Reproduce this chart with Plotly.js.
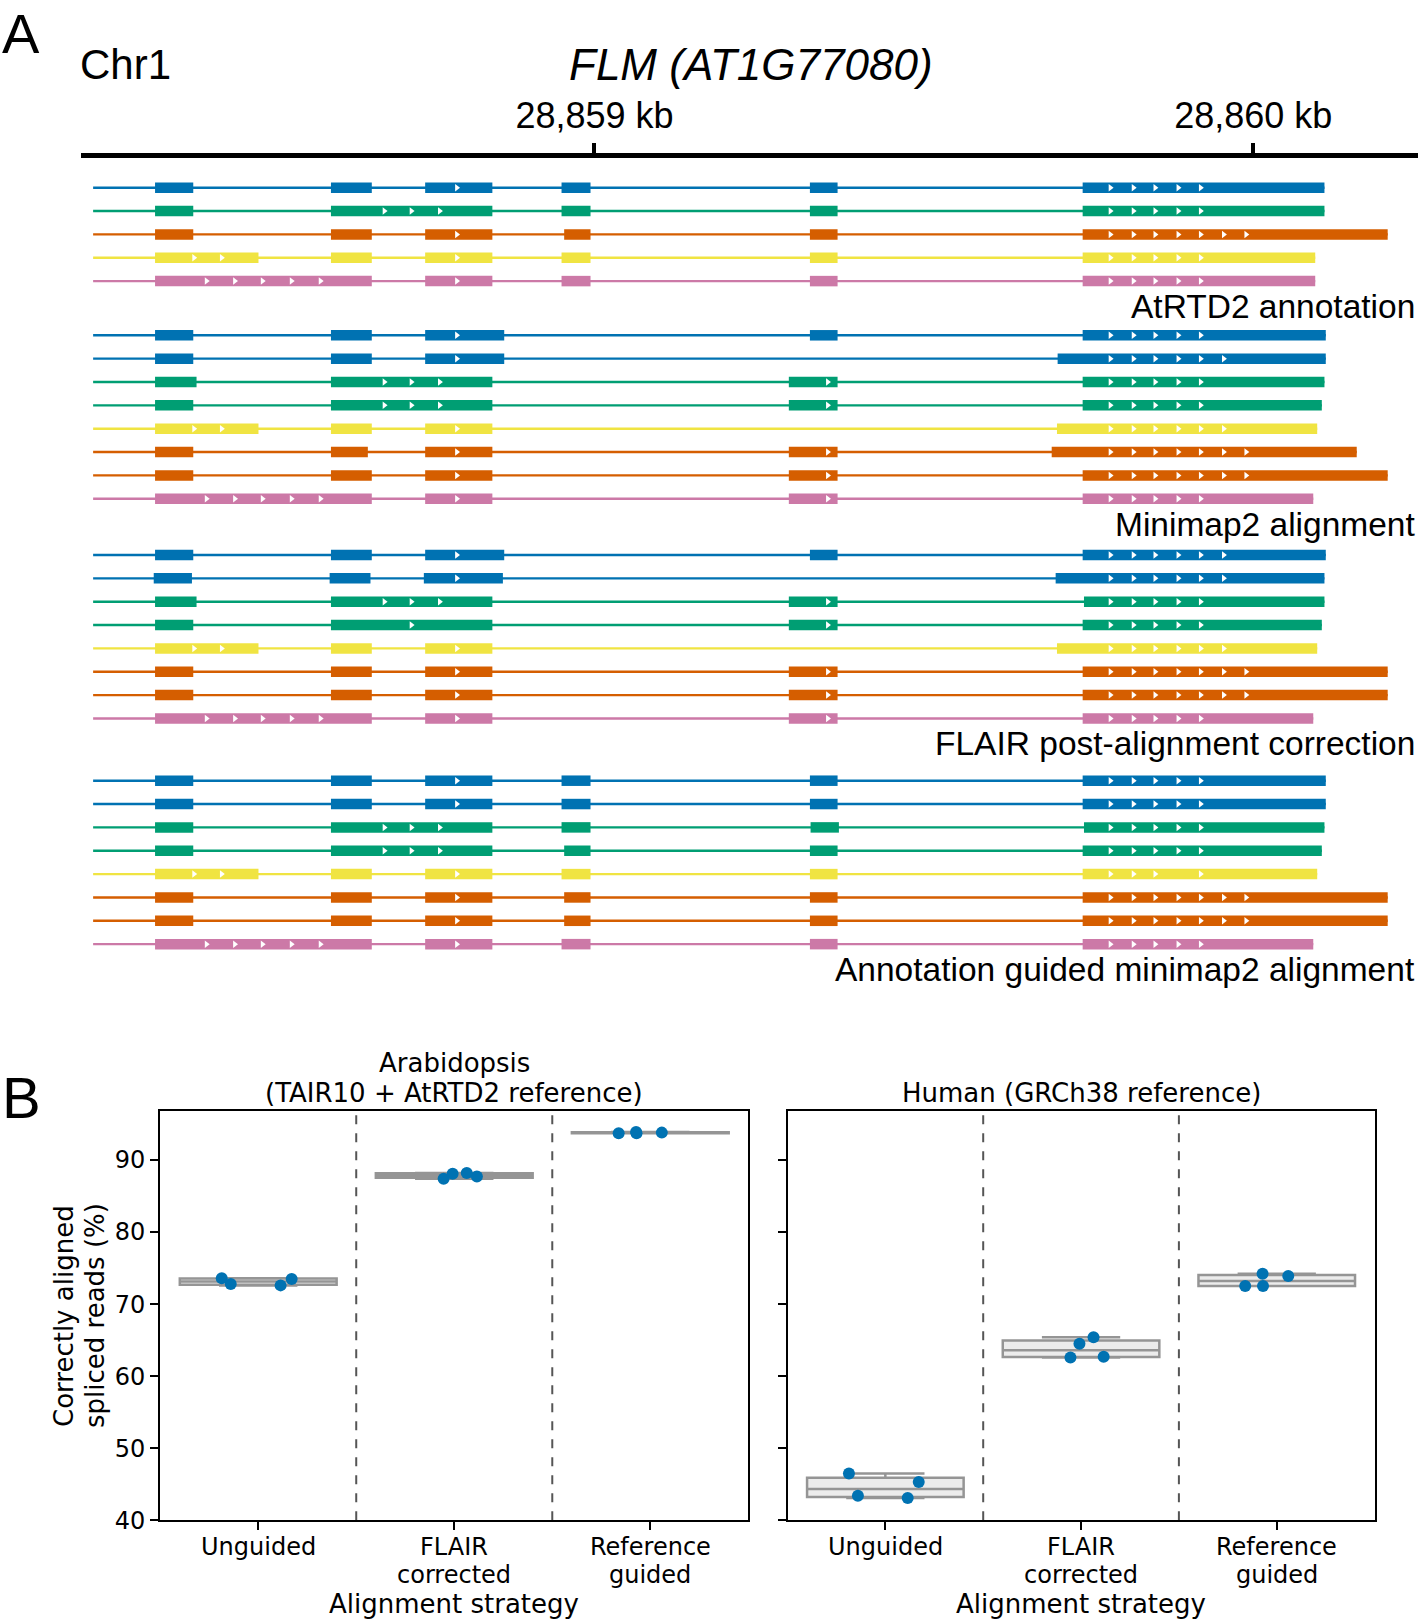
<!DOCTYPE html>
<html><head><meta charset="utf-8">
<script src="https://cdn.plot.ly/plotly-3.0.1.min.js"></script>
<style>html,body{margin:0;padding:0;background:#fff}#chart{width:1418px;height:1620px}</style>
</head><body><div id="chart"></div>
<script>
// ---------------- DATA: panel A (gene models, genomic bp) ----------------
const chromName = 'Chr1';
const geneName = 'FLM (AT1G77080)';
const genomeTickVals = [28859000, 28860000];
const genomeTickText = ['28,859 kb', '28,860 kb'];
const txStart = 28858239; // left end of every transcript line

const groupLabels = ['AtRTD2 annotation', 'Minimap2 alignment',
  'FLAIR post-alignment correction', 'Annotation guided minimap2 alignment'];

const atrtd2Colors = ['blue', 'green', 'orange', 'yellow', 'pink'];
const atrtd2Exons = [
  [[28858333,28858391],[28858600,28858662],[28858743,28858845],[28858950,28858994],[28859327,28859369],[28859741,28860108]],
  [[28858333,28858391],[28858600,28858845],[28858950,28858994],[28859327,28859369],[28859741,28860108]],
  [[28858333,28858391],[28858600,28858662],[28858743,28858845],[28858954,28858994],[28859327,28859369],[28859741,28860204]],
  [[28858333,28858490],[28858600,28858662],[28858743,28858845],[28858950,28858994],[28859327,28859369],[28859741,28860094]],
  [[28858333,28858662],[28858743,28858845],[28858950,28858994],[28859327,28859369],[28859741,28860094]]
];
const atrtd2Arrows = [
  [28858791, 28859783,28859818,28859851,28859886,28859920],
  [28858681,28858722,28858765, 28859783,28859818,28859851,28859886,28859920],
  [28858791, 28859783,28859818,28859851,28859886,28859920,28859955,28859989],
  [28858392,28858434, 28858791, 28859783,28859818,28859851,28859886,28859920],
  [28858411,28858454,28858496,28858540,28858584, 28858791, 28859783,28859818,28859851,28859886,28859920]
];

const minimapColors = ['blue', 'blue', 'green', 'green', 'yellow', 'orange', 'orange', 'pink'];
const minimapExons = [
  [[28858333,28858391],[28858600,28858662],[28858743,28858863],[28859327,28859369],[28859741,28860110]],
  [[28858333,28858391],[28858600,28858662],[28858743,28858863],[28859703,28860110]],
  [[28858333,28858396],[28858600,28858845],[28859295,28859369],[28859741,28860108]],
  [[28858333,28858391],[28858600,28858845],[28859295,28859369],[28859741,28860104]],
  [[28858333,28858490],[28858600,28858662],[28858743,28858845],[28859702,28860097]],
  [[28858333,28858391],[28858600,28858656],[28858743,28858845],[28859295,28859369],[28859694,28860157]],
  [[28858333,28858391],[28858600,28858662],[28858743,28858845],[28859295,28859369],[28859741,28860204]],
  [[28858333,28858662],[28858743,28858845],[28859295,28859369],[28859741,28860091]]
];
const minimapArrows = [
  [28858791, 28859783,28859818,28859851,28859886,28859920],
  [28858791, 28859783,28859818,28859851,28859886,28859920,28859955],
  [28858681,28858722,28858765, 28859354, 28859783,28859818,28859851,28859886,28859920],
  [28858681,28858722,28858765, 28859354, 28859783,28859818,28859851,28859886,28859920],
  [28858392,28858434, 28858791, 28859783,28859818,28859851,28859886,28859920,28859955],
  [28858791, 28859354, 28859783,28859818,28859851,28859886,28859920,28859955,28859989],
  [28858791, 28859354, 28859783,28859818,28859851,28859886,28859920,28859955,28859989],
  [28858411,28858454,28858496,28858540,28858584, 28858791, 28859354, 28859783,28859818,28859851,28859886,28859920]
];

const flairColors = ['blue', 'blue', 'green', 'green', 'yellow', 'orange', 'orange', 'pink'];
const flairExons = [
  [[28858333,28858391],[28858600,28858662],[28858743,28858863],[28859327,28859369],[28859741,28860110]],
  [[28858331,28858389],[28858598,28858660],[28858741,28858861],[28859700,28860108]],
  [[28858333,28858396],[28858600,28858845],[28859295,28859369],[28859743,28860108]],
  [[28858333,28858391],[28858600,28858845],[28859295,28859369],[28859741,28860104]],
  [[28858333,28858490],[28858600,28858662],[28858743,28858845],[28859702,28860097]],
  [[28858333,28858391],[28858600,28858662],[28858743,28858845],[28859295,28859369],[28859741,28860204]],
  [[28858333,28858391],[28858600,28858662],[28858743,28858845],[28859295,28859369],[28859741,28860204]],
  [[28858333,28858662],[28858743,28858845],[28859295,28859369],[28859741,28860091]]
];
const flairArrows = [
  [28858791, 28859783,28859818,28859851,28859886,28859920,28859955],
  [28858791, 28859783,28859818,28859851,28859886,28859920,28859955],
  [28858681,28858722,28858765, 28859354, 28859783,28859818,28859851,28859886,28859920],
  [28858722, 28859354, 28859783,28859818,28859851,28859886,28859920],
  [28858392,28858434, 28858791, 28859783,28859818,28859851,28859886,28859920,28859955],
  [28858791, 28859354, 28859783,28859818,28859851,28859886,28859920,28859955,28859989],
  [28858791, 28859354, 28859783,28859818,28859851,28859886,28859920,28859955,28859989],
  [28858411,28858454,28858496,28858540,28858584, 28858791, 28859354, 28859783,28859818,28859851,28859886,28859920]
];

const guidedColors = ['blue', 'blue', 'green', 'green', 'yellow', 'orange', 'orange', 'pink'];
const guidedExons = [
  [[28858333,28858391],[28858600,28858662],[28858743,28858845],[28858950,28858994],[28859327,28859369],[28859741,28860110]],
  [[28858333,28858391],[28858600,28858662],[28858743,28858845],[28858950,28858994],[28859327,28859369],[28859741,28860110]],
  [[28858333,28858391],[28858600,28858845],[28858950,28858994],[28859328,28859371],[28859743,28860108]],
  [[28858333,28858391],[28858600,28858845],[28858954,28858994],[28859327,28859369],[28859741,28860104]],
  [[28858333,28858490],[28858600,28858662],[28858743,28858845],[28858950,28858994],[28859327,28859369],[28859741,28860097]],
  [[28858333,28858391],[28858600,28858662],[28858743,28858845],[28858954,28858994],[28859327,28859369],[28859741,28860204]],
  [[28858333,28858391],[28858600,28858662],[28858743,28858845],[28858954,28858994],[28859327,28859369],[28859741,28860204]],
  [[28858333,28858662],[28858743,28858845],[28858950,28858994],[28859327,28859369],[28859741,28860091]]
];
const guidedArrows = [
  [28858791, 28859783,28859818,28859851,28859886,28859920],
  [28858791, 28859783,28859818,28859851,28859886,28859920],
  [28858681,28858722,28858765, 28859783,28859818,28859851,28859886,28859920],
  [28858681,28858722,28858765, 28859783,28859818,28859851,28859886,28859920],
  [28858392,28858434, 28858791, 28859783,28859818,28859851,28859920],
  [28858791, 28859783,28859818,28859851,28859886,28859920,28859955,28859989],
  [28858791, 28859783,28859818,28859851,28859886,28859920,28859955,28859989],
  [28858411,28858454,28858496,28858540,28858584, 28858791, 28859783,28859818,28859851,28859886,28859920]
];

// ---------------- DATA: panel B (correctly aligned spliced reads, %) ----------------
const categories = ['Unguided', 'FLAIR corrected', 'Reference guided'];
const categoryLines = [['Unguided'], ['FLAIR', 'corrected'], ['Reference', 'guided']];
const panelTitles = [['Arabidopsis', '(TAIR10 + AtRTD2 reference)'], ['Human (GRCh38 reference)']];
const yTitleLines = ['Correctly aligned', 'spliced reads (%)'];
const xTitle = 'Alignment strategy';
const arabUnguided = [73.6, 73.5, 72.8, 72.6];
const arabFlair    = [88.2, 87.7, 87.4, 88.1];
const arabRef      = [93.7, 93.8, 93.9, 93.7];
const humanUnguided = [43.4, 43.1, 45.3, 46.5];
const humanFlair    = [62.7, 62.6, 64.5, 65.4];
const humanRef      = [74.2, 72.5, 73.9, 72.5];
const yTicks = [40, 50, 60, 70, 80, 90];

// ---------------- STYLE / LAYOUT ----------------
const W = 1418, H = 1620;
const px = x => x / W;
const py = y => 1 - y / H;
const COLORS = {blue:'#0072B2', green:'#009E73', orange:'#D55E00', yellow:'#F0E442', pink:'#CC79A7'};
const ARIAL = 'Liberation Sans, Arial, Helvetica, sans-serif';
const DEJAVU = 'DejaVu Sans, Verdana, sans-serif';

const groups = [
  {colors: atrtd2Colors, exons: atrtd2Exons, arrows: atrtd2Arrows},
  {colors: minimapColors, exons: minimapExons, arrows: minimapArrows},
  {colors: flairColors, exons: flairExons, arrows: flairArrows},
  {colors: guidedColors, exons: guidedExons, arrows: guidedArrows}
];
const groupTop = [187.7, 335.3, 555.0, 780.7];
const rowStep = 23.35;

const traces = [];
const annotations = [];
const intr = {}, exo = {};
Object.keys(COLORS).forEach(c => { intr[c] = {x:[], y:[]}; exo[c] = {x:[], y:[]}; });
const arrX = [], arrY = [];

groups.forEach((g, gi) => {
  let lastY = 0;
  g.exons.forEach((ex, i) => {
    const y = groupTop[gi] + i * rowStep;
    lastY = y;
    const c = g.colors[i];
    const end = ex[ex.length - 1][1];
    intr[c].x.push(txStart, end, null); intr[c].y.push(y, y, null);
    ex.forEach(e => { exo[c].x.push(e[0], e[1], null); exo[c].y.push(y, y, null); });
    g.arrows[i].forEach(a => { arrX.push(a); arrY.push(y); });
  });
  annotations.push({text: groupLabels[gi], xref:'paper', yref:'paper', x: 0.999, y: py(lastY + 25.5),
    xanchor:'right', yanchor:'middle', showarrow:false, font:{family: ARIAL, size: 33.5, color:'#000'}});
});

Object.keys(COLORS).forEach(c => {
  traces.push({type:'scatter', mode:'lines', x: intr[c].x, y: intr[c].y, xaxis:'x', yaxis:'y',
    line:{color: COLORS[c], width: 2.4}, hoverinfo:'skip', showlegend:false, connectgaps:false});
});
Object.keys(COLORS).forEach(c => {
  traces.push({type:'scatter', mode:'lines', x: exo[c].x, y: exo[c].y, xaxis:'x', yaxis:'y',
    line:{color: COLORS[c], width: 10.5}, hoverinfo:'skip', showlegend:false, connectgaps:false});
});
traces.push({type:'scatter', mode:'markers', x: arrX, y: arrY, xaxis:'x', yaxis:'y',
  marker:{symbol:'triangle-right', size:6.5, color:'#ffffff', line:{width:0}}, hoverinfo:'skip', showlegend:false});

// Panel B box traces
function boxTrace(vals, xa, ya) {
  const xs = [], ys = [];
  vals.forEach((arr, k) => arr.forEach(v => { xs.push(categories[k]); ys.push(v); }));
  return {type:'box', x: xs, y: ys, xaxis: xa, yaxis: ya, boxpoints:'all', jitter:0.55, pointpos:0,
    width:0.8, whiskerwidth:0.5, fillcolor:'#ececec', line:{color:'#959595', width:2.5},
    marker:{color:'#0072B2', size:12, opacity:1}, showlegend:false, hoverinfo:'y'};
}
traces.push(boxTrace([arabUnguided, arabFlair, arabRef], 'x2', 'y2'));
traces.push(boxTrace([humanUnguided, humanFlair, humanRef], 'x3', 'y3'));

// text annotations: panel A
annotations.push({text:'A', xref:'paper', yref:'paper', x: 0, y: 1, xanchor:'left', yanchor:'top',
  showarrow:false, font:{family: ARIAL, size: 56, color:'#000'}});
annotations.push({text:'B', xref:'paper', yref:'paper', x: 0, y: py(1097), xanchor:'left', yanchor:'middle',
  showarrow:false, font:{family: ARIAL, size: 58, color:'#000'}});
annotations.push({text: chromName, xref:'paper', yref:'paper', x: px(78), y: py(64), xanchor:'left', yanchor:'middle',
  showarrow:false, font:{family: ARIAL, size: 42, color:'#000'}});
annotations.push({text: '<i>' + geneName + '</i>', xref:'paper', yref:'paper', x: px(751), y: py(64), xanchor:'center', yanchor:'middle',
  showarrow:false, font:{family: ARIAL, size: 44, color:'#000'}});

// panel B texts
const panelCenters = [454.2, 1081];
const bFont = {family: DEJAVU, size: 26, color:'#000'};
const tFont = {family: DEJAVU, size: 24, color:'#000'};
panelTitles.forEach((lines, p) => {
  const n = lines.length;
  lines.forEach((t, j) => annotations.push({text: t, xref:'paper', yref:'paper', x: px(panelCenters[p]),
    y: py(1093 - (n - 1 - j) * 30), xanchor:'center', yanchor:'middle', showarrow:false, font: bFont}));
});
['x2', 'x3'].forEach((xa, p) => {
  categoryLines.forEach((lines, k) => lines.forEach((t, j) => annotations.push({text: t, xref: xa, yref:'paper',
    x: k, y: py(1547 + j * 27.5), xanchor:'center', yanchor:'middle', showarrow:false, font: tFont})));
  annotations.push({text: xTitle, xref:'paper', yref:'paper', x: px(panelCenters[p]), y: py(1604),
    xanchor:'center', yanchor:'middle', showarrow:false, font: bFont});
});
yTitleLines.forEach((t, j) => annotations.push({text: t, xref:'paper', yref:'paper', x: px(64 + j * 31),
  y: py(1316), xanchor:'center', yanchor:'middle', textangle:-90, showarrow:false, font: bFont}));

const shapes = [];
['x2', 'x3'].forEach((xa, k) => {
  const ya = k === 0 ? 'y2' : 'y3';
  [0.5, 1.5].forEach(v => shapes.push({type:'line', xref: xa, yref: ya + ' domain', x0: v, x1: v, y0: 0, y1: 1,
    line:{color:'#555555', width:2, dash:'dash'}, layer:'below'}));
});

const bx = {type:'category', categoryarray: categories, range:[-0.5, 2.5], showline:true, mirror:true, linewidth:2,
  linecolor:'#000', ticks:'outside', ticklen:8, tickwidth:2, tickcolor:'#000', showgrid:false, zeroline:false,
  showticklabels:false};
const by = {range:[40, 96.8], tickvals: yTicks, showline:true, mirror:true, linewidth:2, linecolor:'#000',
  ticks:'outside', ticklen:8, tickwidth:2, tickcolor:'#000', showgrid:false, zeroline:false,
  tickfont:{family: DEJAVU, size: 24, color:'#000'}};

const layout = {
  width: W, height: H, margin:{l:0, r:0, t:0, b:0}, paper_bgcolor:'#fff', plot_bgcolor:'rgba(0,0,0,0)',
  showlegend:false, font:{family: DEJAVU, color:'#000'},
  xaxis: {domain:[px(80.6), 1], range:[28858220, 28860250], anchor:'y', side:'top', showline:true, linewidth:5,
    linecolor:'#000', ticks:'outside', ticklen:10, tickwidth:4, tickcolor:'#000', tickvals: genomeTickVals,
    ticktext: genomeTickText, tickfont:{family: ARIAL, size: 36, color:'#000'}, showgrid:false, zeroline:false,
    fixedrange:true},
  yaxis: {domain:[py(1000), py(157.5)], range:[1000, 157.5], anchor:'x', showgrid:false, zeroline:false,
    showticklabels:false, ticks:'', showline:false, fixedrange:true},
  xaxis2: Object.assign({}, bx, {domain:[px(160.2), px(748.3)], anchor:'y2'}),
  yaxis2: Object.assign({}, by, {domain:[py(1520.3), py(1111)], anchor:'x2'}),
  xaxis3: Object.assign({}, bx, {domain:[px(787.5), px(1374.6)], anchor:'y3'}),
  yaxis3: Object.assign({}, by, {domain:[py(1520.3), py(1111)], anchor:'x3', showticklabels:false}),
  annotations: annotations,
  shapes: shapes
};

Plotly.newPlot('chart', traces, layout, {staticPlot:true, displayModeBar:false});
</script></body></html>
